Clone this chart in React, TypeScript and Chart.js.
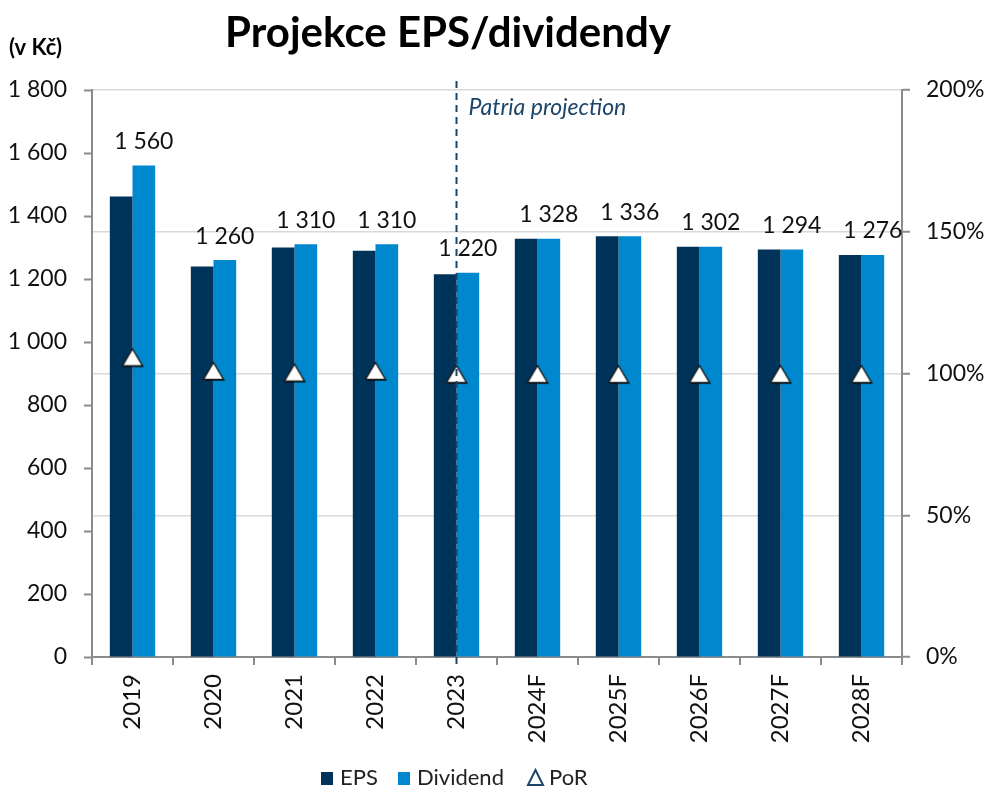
import React, { useEffect, useRef } from "react";
import { Chart, registerables } from "chart.js";

Chart.register(...registerables);

const categories = ["2019", "2020", "2021", "2022", "2023", "2024F", "2025F", "2026F", "2027F", "2028F"];
const epsValues = [1462, 1240, 1300, 1290, 1215, 1328, 1336, 1302, 1294, 1276];
const dividendValues = [1560, 1260, 1310, 1310, 1220, 1328, 1336, 1302, 1294, 1276];
const porValues = [1.057, 1.009, 1.003, 1.009, 0.998, 0.998, 0.998, 0.998, 0.998, 0.998];
const projectionStartIndex = 4;
const leftAxisMax = 1800;
const leftAxisStep = 200;
const rightAxisMax = 2;
const rightAxisStep = 0.5;

const EPS_COLOR = "#003359";
const DIV_COLOR = "#0088ce";
const NAVY = "#1b4569";
const AXIS_COLOR = "#8c8c8c";
const GRID_COLOR = "#d9d9d9";
const FONT = "Lato";

const fmt = (n: number) => Math.round(n).toString().replace(/\B(?=(\d{3})+(?!\d))/g, " ");

function makeTriangle(): HTMLCanvasElement {
  const c = document.createElement("canvas");
  c.width = 26;
  c.height = 24;
  const g = c.getContext("2d")!;
  // shadow
  g.fillStyle = "rgba(0,0,0,0.55)";
  g.beginPath();
  g.moveTo(13 + 1.5, 3.5 + 1.5);
  g.lineTo(23 + 1.5, 20.5 + 1.5);
  g.lineTo(3 + 1.5, 20.5 + 1.5);
  g.closePath();
  g.fill();
  g.fillStyle = "#ffffff";
  g.strokeStyle = "#1a1a1a";
  g.lineWidth = 1.4;
  g.beginPath();
  g.moveTo(13, 3.5);
  g.lineTo(23, 20.5);
  g.lineTo(3, 20.5);
  g.closePath();
  g.fill();
  g.stroke();
  return c;
}

const overlayPlugin = {
  id: "overlay",
  afterDatasetsDraw(chart: any) {
    const ctx = chart.ctx;
    const meta = chart.getDatasetMeta(1);
    ctx.save();
    ctx.font = `23px ${FONT}`;
    ctx.fillStyle = "#111";
    ctx.textAlign = "center";
    ctx.textBaseline = "middle";
    meta.data.forEach((bar: any, i: number) => {
      ctx.fillText(fmt(dividendValues[i]), bar.x, bar.y - 24);
    });
    ctx.restore();
  },
  afterDraw(chart: any) {
    const ctx = chart.ctx;
    const xScale = chart.scales.x;
    ctx.save();
    // Title
    ctx.fillStyle = "#000";
    ctx.font = `bold 42px ${FONT}`;
    ctx.textAlign = "center";
    ctx.textBaseline = "middle";
    ctx.fillText("Projekce EPS/dividendy", 448, 33);
    // Unit
    ctx.font = `bold 22px ${FONT}`;
    ctx.textAlign = "left";
    ctx.fillText("(v Kč)", 9, 48);
    // Dashed projection line
    const px = xScale.getPixelForValue(projectionStartIndex);
    ctx.strokeStyle = NAVY;
    ctx.lineWidth = 2;
    ctx.setLineDash([7, 5]);
    ctx.beginPath();
    ctx.moveTo(px, 81);
    ctx.lineTo(px, 668);
    ctx.stroke();
    ctx.setLineDash([]);
    ctx.font = `italic 23px ${FONT}`;
    ctx.fillStyle = NAVY;
    ctx.textAlign = "left";
    ctx.fillText("Patria projection", px + 12, 108);
    // Legend
    const ly = 778;
    ctx.font = `22px ${FONT}`;
    ctx.textBaseline = "middle";
    ctx.fillStyle = EPS_COLOR;
    ctx.fillRect(321, ly - 6, 12, 13);
    ctx.fillStyle = "#222";
    ctx.fillText("EPS", 340, ly);
    ctx.fillStyle = DIV_COLOR;
    ctx.fillRect(398, ly - 6, 12, 13);
    ctx.fillStyle = "#222";
    ctx.fillText("Dividend", 417, ly);
    const tx = 528;
    ctx.strokeStyle = NAVY;
    ctx.lineWidth = 2;
    ctx.beginPath();
    ctx.moveTo(tx + 7.5, ly - 8);
    ctx.lineTo(tx + 15, ly + 7);
    ctx.lineTo(tx, ly + 7);
    ctx.closePath();
    ctx.stroke();
    ctx.fillStyle = "#222";
    ctx.fillText("PoR", tx + 21, ly);
    ctx.restore();
  },
};

export default function App() {
  const canvasRef = useRef<HTMLCanvasElement | null>(null);

  useEffect(() => {
    document.body.style.margin = "0";
    const canvas = canvasRef.current;
    if (!canvas) return;
    const tri = makeTriangle();
    const chart = new Chart(canvas, {
      type: "bar",
      data: {
        labels: categories,
        datasets: [
          {
            type: "bar",
            label: "EPS",
            data: epsValues,
            backgroundColor: EPS_COLOR,
            borderWidth: 0,
            barPercentage: 1,
            categoryPercentage: 0.56,
            yAxisID: "y",
            order: 2,
          },
          {
            type: "bar",
            label: "Dividend",
            data: dividendValues,
            backgroundColor: DIV_COLOR,
            borderWidth: 0,
            barPercentage: 1,
            categoryPercentage: 0.56,
            yAxisID: "y",
            order: 2,
          },
          {
            type: "line",
            label: "PoR",
            data: porValues,
            showLine: false,
            pointStyle: tri,
            pointRadius: 12,
            pointHoverRadius: 12,
            yAxisID: "y1",
            order: 1,
          },
        ] as any,
      },
      options: {
        animation: false,
        responsive: false,
        events: [],
        layout: { padding: { top: 90, bottom: 0, left: 0, right: 0 } },
        plugins: {
          legend: { display: false },
          title: { display: false },
          tooltip: { enabled: false },
        },
        scales: {
          x: {
            offset: true,
            grid: {
              display: true,
              offset: true,
              drawOnChartArea: false,
              drawTicks: true,
              tickLength: 8,
              color: AXIS_COLOR,
              tickColor: AXIS_COLOR,
              lineWidth: 2,
            },
            border: { display: true, color: AXIS_COLOR, width: 2 },
            ticks: {
              maxRotation: 90,
              minRotation: 90,
              padding: 9,
              color: "#111",
              font: { family: FONT, size: 24 },
            },
            afterFit(scale: any) {
              scale.height = 130;
            },
          },
          y: {
            position: "left",
            min: 0,
            max: leftAxisMax,
            ticks: {
              stepSize: leftAxisStep,
              padding: 17,
              color: "#111",
              font: { family: FONT, size: 23 },
              callback: (v: any) => fmt(Number(v)),
            },
            grid: {
              drawOnChartArea: false,
              drawTicks: true,
              tickLength: 8,
              tickColor: AXIS_COLOR,
              tickWidth: 2,
              color: AXIS_COLOR,
            },
            border: { display: true, color: AXIS_COLOR, width: 2 },
            afterFit(scale: any) {
              scale.width = 92;
            },
          },
          y1: {
            position: "right",
            min: 0,
            max: rightAxisMax,
            ticks: {
              stepSize: rightAxisStep,
              padding: 16,
              color: "#111",
              font: { family: FONT, size: 23 },
              callback: (v: any) => `${Math.round(Number(v) * 100)}%`,
            },
            grid: {
              drawOnChartArea: true,
              drawTicks: true,
              tickLength: 8,
              color: GRID_COLOR,
              lineWidth: 1.5,
              tickColor: AXIS_COLOR,
              tickWidth: 2,
            },
            border: { display: true, color: AXIS_COLOR, width: 2 },
            afterFit(scale: any) {
              scale.width = 83;
            },
          },
        },
      },
      plugins: [overlayPlugin],
    });
    return () => chart.destroy();
  }, []);

  return (
    <div style={{ position: "absolute", left: 0, top: 0, width: 985, height: 787, background: "#fff" }}>
      <canvas ref={canvasRef} width={985} height={787} style={{ width: 985, height: 787, display: "block" }} />
    </div>
  );
}
